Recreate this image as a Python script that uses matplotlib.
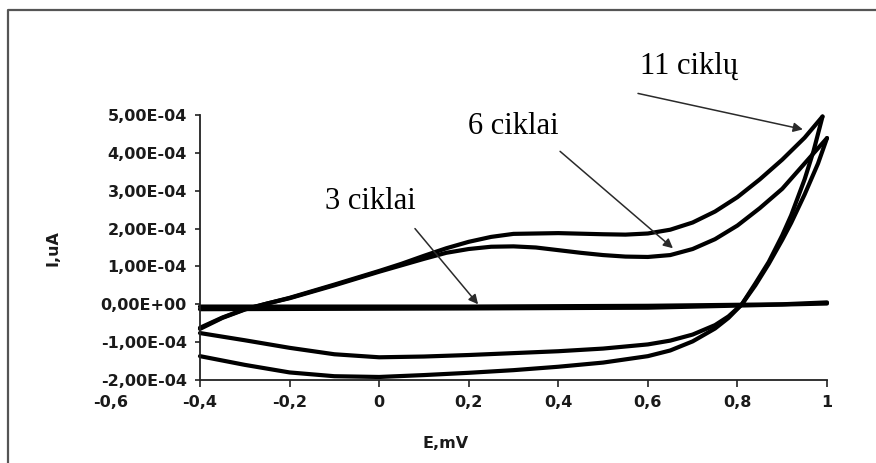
import numpy as np
import matplotlib
matplotlib.use("Agg")
import matplotlib.pyplot as plt
from matplotlib.lines import Line2D
from matplotlib.ticker import FuncFormatter, FixedLocator

# ---- cyclic voltammetry data (E in mV, I in uA) ----
# 11 cycles, anodic (forward) sweep
E_11_fwd = [-0.4, -0.35, -0.3, -0.25, -0.2, -0.1, 0.0, 0.05, 0.1, 0.15, 0.2, 0.25, 0.3,
            0.4, 0.5, 0.55, 0.6, 0.65, 0.7, 0.75, 0.8, 0.85, 0.9, 0.95, 0.99]
I_11_fwd = [-0.65e-4, -0.36e-4, -0.14e-4, 0.02e-4, 0.17e-4, 0.52e-4, 0.88e-4, 1.07e-4, 1.28e-4,
            1.48e-4, 1.65e-4, 1.78e-4, 1.86e-4, 1.88e-4, 1.85e-4, 1.84e-4, 1.87e-4, 1.97e-4,
            2.16e-4, 2.45e-4, 2.83e-4, 3.3e-4, 3.82e-4, 4.4e-4, 4.96e-4]
# 11 cycles, cathodic (reverse) sweep
E_11_rev = [0.99, 0.97, 0.95, 0.92, 0.9, 0.87, 0.84, 0.81, 0.78, 0.75, 0.7, 0.65, 0.6,
            0.5, 0.4, 0.3, 0.2, 0.1, 0.0, -0.1, -0.2, -0.3, -0.4]
I_11_rev = [4.96e-4, 4.05e-4, 3.3e-4, 2.35e-4, 1.82e-4, 1.12e-4, 0.55e-4, 0.0, -0.36e-4, -0.64e-4,
            -0.98e-4, -1.22e-4, -1.37e-4, -1.54e-4, -1.65e-4, -1.74e-4, -1.81e-4, -1.87e-4,
            -1.92e-4, -1.9e-4, -1.8e-4, -1.6e-4, -1.37e-4]

# 6 cycles, forward sweep
E_6_fwd = [-0.4, -0.35, -0.3, -0.25, -0.2, -0.1, 0.0, 0.1, 0.15, 0.2, 0.25, 0.3, 0.35, 0.4,
           0.45, 0.5, 0.55, 0.6, 0.65, 0.7, 0.75, 0.8, 0.85, 0.9, 0.95, 1.0]
I_6_fwd = [-0.62e-4, -0.35e-4, -0.13e-4, 0.02e-4, 0.16e-4, 0.5e-4, 0.86e-4, 1.2e-4, 1.36e-4,
           1.46e-4, 1.52e-4, 1.53e-4, 1.5e-4, 1.43e-4, 1.36e-4, 1.3e-4, 1.26e-4, 1.25e-4,
           1.3e-4, 1.46e-4, 1.72e-4, 2.08e-4, 2.54e-4, 3.05e-4, 3.72e-4, 4.39e-4]
# 6 cycles, reverse sweep
E_6_rev = [1.0, 0.98, 0.95, 0.92, 0.9, 0.87, 0.84, 0.81, 0.78, 0.75, 0.7, 0.65, 0.6, 0.5,
           0.4, 0.3, 0.2, 0.1, 0.0, -0.1, -0.2, -0.3, -0.4]
I_6_rev = [4.39e-4, 3.72e-4, 2.9e-4, 2.15e-4, 1.7e-4, 1.07e-4, 0.5e-4, 0.0, -0.32e-4, -0.55e-4,
           -0.8e-4, -0.96e-4, -1.06e-4, -1.17e-4, -1.24e-4, -1.29e-4, -1.34e-4, -1.38e-4,
           -1.4e-4, -1.32e-4, -1.15e-4, -0.95e-4, -0.76e-4]

# 3 cycles: almost no current
E_3_fwd = [-0.4, 0.2, 0.6, 0.9, 1.0]
I_3_fwd = [-0.06e-4, -0.06e-4, -0.04e-4, 0.0, 0.05e-4]
E_3_rev = [1.0, 0.6, 0.2, -0.4]
I_3_rev = [0.02e-4, -0.09e-4, -0.11e-4, -0.13e-4]

x_ticks = [-0.6, -0.4, -0.2, 0.0, 0.2, 0.4, 0.6, 0.8, 1.0]
y_ticks = [-2e-4, -1e-4, 0.0, 1e-4, 2e-4, 3e-4, 4e-4, 5e-4]

labels = ["11 ciklų", "6 ciklai", "3 ciklai"]
label_pos = [(0.692, 6.09e-4), (0.300, 4.51e-4), (-0.02, 2.51e-4)]
arrow_from = [(0.578, 5.57e-4), (0.404, 4.04e-4), (0.080, 2.0e-4)]
arrow_to = [(0.946, 4.62e-4), (0.656, 1.48e-4), (0.221, 0.0)]

# ---- figure ----
fig = plt.figure(figsize=(8.76, 4.63), dpi=100)
ax = fig.add_axes([110.4 / 876, 83 / 463, (827 - 110.4) / 876, 265 / 463])

line_kw = dict(color="black", lw=3.0, solid_capstyle="round", solid_joinstyle="round",
               clip_on=False)
ax.plot(E_11_fwd, I_11_fwd, **line_kw)
ax.plot(E_11_rev, I_11_rev, **line_kw)
ax.plot(E_6_fwd, I_6_fwd, **line_kw)
ax.plot(E_6_rev, I_6_rev, **line_kw)
ax.plot(E_3_fwd, I_3_fwd, color="black", lw=3.0, solid_capstyle="round", clip_on=False)
ax.plot(E_3_rev, I_3_rev, color="black", lw=3.0, solid_capstyle="round", clip_on=False)

ax.set_xlim(-0.6, 1.0)
ax.set_ylim(-2e-4, 5e-4)

# axes cross at E = -0.4
for side in ("top", "right"):
    ax.spines[side].set_visible(False)
ax.spines["left"].set_position(("data", -0.4))
ax.spines["bottom"].set_bounds(-0.4, 1.0)
for side in ("left", "bottom"):
    ax.spines[side].set_linewidth(1.3)
    ax.spines[side].set_color("#222222")

ax.xaxis.set_major_locator(FixedLocator(x_ticks))
ax.yaxis.set_major_locator(FixedLocator(y_ticks))
ax.xaxis.set_major_formatter(FuncFormatter(lambda v, p: f"{np.round(v, 2):g}".replace(".", ",")))
ax.yaxis.set_major_formatter(FuncFormatter(lambda v, p: f"{v:.2E}".replace(".", ",")))
ax.tick_params(axis="x", direction="out", length=5, width=1.2, pad=6, color="#222222")
ax.tick_params(axis="y", direction="out", length=3.5, width=1.2, pad=6, color="#222222")
for lab in ax.get_xticklabels() + ax.get_yticklabels():
    lab.set_fontweight("bold")
    lab.set_fontsize(11.5)
    lab.set_color("#1a1a1a")
# no tick mark left of the crossing point
fig.canvas.draw()
for t in ax.xaxis.get_major_ticks():
    if t.get_loc() < -0.5:
        t.tick1line.set_visible(False)

fig.text(446 / 876, 1 - 444 / 463, "E,mV", ha="center", va="center",
         fontsize=11.5, fontweight="bold", color="#1a1a1a")
fig.text(53 / 876, 1 - 248 / 463, "I,uA", ha="center", va="center", rotation=90,
         fontsize=11.5, fontweight="bold", color="#1a1a1a")

# annotations
for txt, (tx, ty), src, dst in zip(labels, label_pos, arrow_from, arrow_to):
    ax.text(tx, ty, txt, ha="center", va="baseline", fontsize=22,
            family="Liberation Serif", color="black", clip_on=False)
    ax.annotate("", xy=dst, xytext=src, annotation_clip=False,
                arrowprops=dict(arrowstyle="-|>", lw=1.1, color="#2a2a2a",
                                mutation_scale=14, shrinkA=0, shrinkB=0))

# outer frame (left and top edges)
fig.add_artist(Line2D([8 / 876, 8 / 876, 1.01], [-0.01, 1 - 10 / 463, 1 - 10 / 463],
                      transform=fig.transFigure, color="#555555", lw=1.6))

fig.savefig("out.png", dpi=100)
